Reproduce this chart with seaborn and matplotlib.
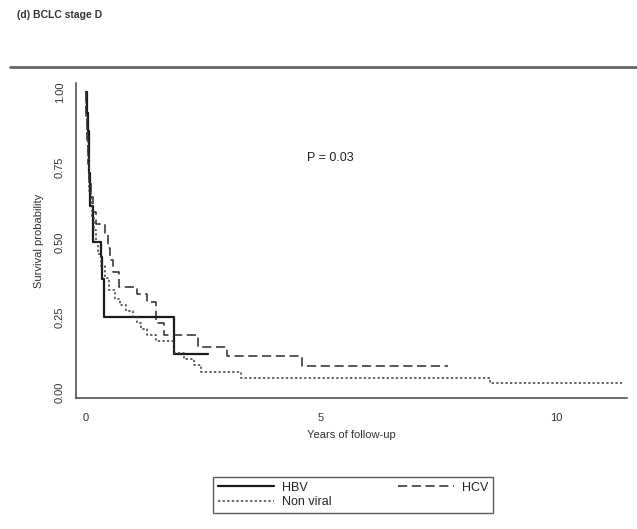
import numpy as np
import pandas as pd
import matplotlib
matplotlib.use("Agg")
import matplotlib.pyplot as plt
import seaborn as sns

# Kaplan-Meier step values (years, survival)
hbv_time = [0, 0.02, 0.04, 0.06, 0.08, 0.10, 0.15, 0.32, 0.35, 0.38, 1.87, 2.6]
hbv_surv = [1.0, 0.93, 0.87, 0.80, 0.73, 0.62, 0.50, 0.45, 0.375, 0.25, 0.125, 0.125]

hcv_time = [0, 0.01, 0.03, 0.05, 0.08, 0.12, 0.15, 0.22, 0.40, 0.47, 0.52, 0.58,
            0.70, 1.10, 1.30, 1.50, 1.66, 2.38, 3.0, 4.6, 7.7]
hcv_surv = [1.0, 0.92, 0.84, 0.76, 0.70, 0.65, 0.60, 0.56, 0.53, 0.48, 0.44, 0.40,
            0.35, 0.325, 0.30, 0.23, 0.19, 0.15, 0.12, 0.085, 0.085]

nonviral_time = [0, 0.01, 0.02, 0.04, 0.06, 0.08, 0.11, 0.14, 0.18, 0.22, 0.27, 0.33,
                 0.40, 0.50, 0.62, 0.72, 0.85, 1.0, 1.08, 1.18, 1.30, 1.50, 1.87,
                 2.1, 2.3, 2.45, 3.3, 8.6, 11.4]
nonviral_surv = [1.0, 0.92, 0.85, 0.78, 0.72, 0.67, 0.63, 0.58, 0.54, 0.50, 0.46, 0.42,
                 0.38, 0.34, 0.31, 0.29, 0.27, 0.25, 0.23, 0.21, 0.19, 0.17, 0.13,
                 0.11, 0.09, 0.065, 0.047, 0.03, 0.03]

x_ticks = [0, 5, 10]
y_ticks = [0.00, 0.25, 0.50, 0.75, 1.00]
y_tick_labels = ["0.00", "0.25", "0.50", "0.75", "1.00"]

sns.set_theme(style="white")
plt.rcParams["font.family"] = ["Liberation Sans", "DejaVu Sans"]

fig = plt.figure(figsize=(6.37, 5.29), dpi=100)
ax = fig.add_axes([0.119, 0.248, 0.865, 0.595])

curves = [
    ("HBV", hbv_time, hbv_surv, "-", 1.6, "#1a1a1a"),
    ("HCV", hcv_time, hcv_surv, (0, (6, 3)), 1.1, "#2a2a2a"),
    ("Non viral", nonviral_time, nonviral_surv, (0, (1.5, 1.5)), 1.1, "#3a3a3a"),
]
handles = {}
for name, t, s, ls, lw, col in curves:
    df = pd.DataFrame({"time": t, "surv": s})
    sns.lineplot(data=df, x="time", y="surv", ax=ax, drawstyle="steps-post",
                 estimator=None, sort=False, color=col, linewidth=lw,
                 linestyle=ls, label=name, legend=False)
    handles[name] = ax.get_lines()[-1]

ax.set_xlim(-0.21, 11.5)
ax.set_ylim(-0.02, 1.03)
ax.set_xticks(x_ticks)
ax.set_yticks(y_ticks)
ax.set_yticklabels(y_tick_labels, rotation=90, va="center")
ax.tick_params(axis="both", direction="out", length=5, width=0.9, color="#333333",
               labelsize=8, labelcolor="#333333", pad=3)
ax.tick_params(axis="x", pad=6)
for side in ["top", "right"]:
    ax.spines[side].set_visible(False)
for side in ["left", "bottom"]:
    ax.spines[side].set_color("#444444")
    ax.spines[side].set_linewidth(1.1)

ax.set_xlabel("Years of follow-up", fontsize=8, color="#333333", labelpad=5)
ax.set_ylabel("Survival probability", fontsize=8, color="#333333", labelpad=8)
ax.text(5.2, 0.78, "P = 0.03", fontsize=9, color="#222222", ha="center", va="center")

# header and rule above the plot
fig.text(0.027, 0.972, "(d) BCLC stage D", fontsize=7.5, color="#333333",
         fontweight="bold", ha="left", va="center")
fig.add_artist(plt.Line2D([0.016, 1.0], [0.873, 0.873], color="#666666",
                          linewidth=2, transform=fig.transFigure))

leg = fig.legend([handles["HBV"], handles["Non viral"], handles["HCV"]],
                 ["HBV", "Non viral", "HCV"], ncol=2, loc="lower left",
                 bbox_to_anchor=(0.334, 0.030, 0.44, 0.0945), mode="expand",
                 fontsize=9, handlelength=4.5, handletextpad=0.6,
                 borderaxespad=0, labelspacing=0.2, fancybox=False,
                 frameon=True, edgecolor="#333333")
leg.get_frame().set_linewidth(1.0)

fig.savefig("out.png", dpi=100)
